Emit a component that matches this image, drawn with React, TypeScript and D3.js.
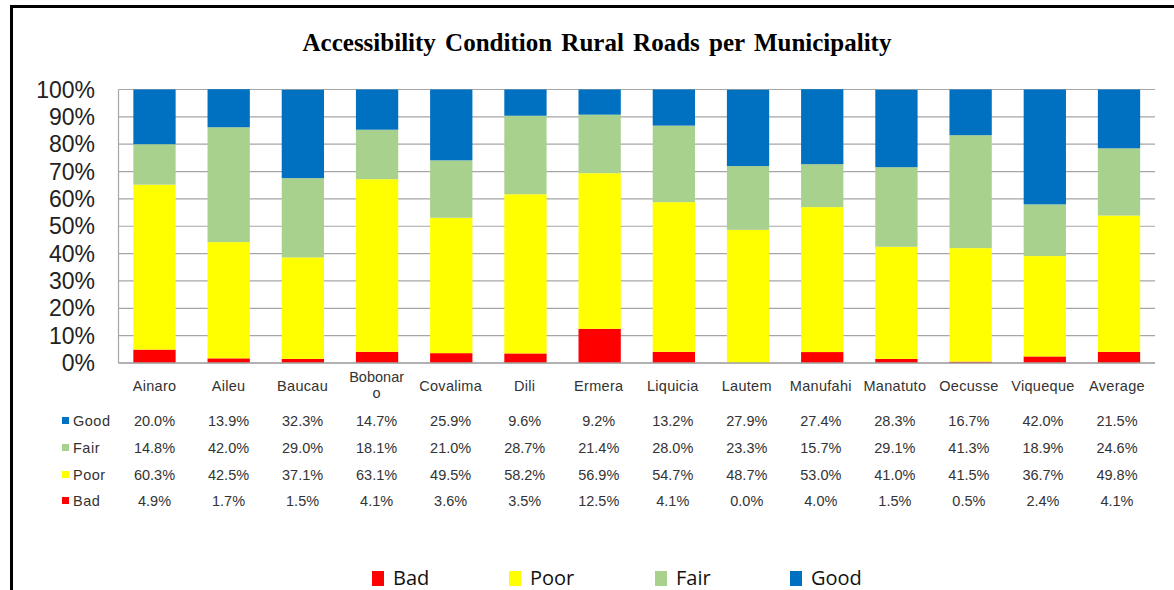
import React from "react";
import * as d3 from "d3";

const categories = ["Ainaro","Aileu","Baucau","Bobonaro","Covalima","Dili","Ermera","Liquicia","Lautem","Manufahi","Manatuto","Oecusse","Viqueque","Average"];
const bad = [4.9,1.7,1.5,4.1,3.6,3.5,12.5,4.1,0.0,4.0,1.5,0.5,2.4,4.1];
const poor = [60.3,42.5,37.1,63.1,49.5,58.2,56.9,54.7,48.7,53.0,41.0,41.5,36.7,49.8];
const fair = [14.8,42.0,29.0,18.1,21.0,28.7,21.4,28.0,23.3,15.7,29.1,41.3,18.9,24.6];
const good = [20.0,13.9,32.3,14.7,25.9,9.6,9.2,13.2,27.9,27.4,28.3,16.7,42.0,21.5];
const seriesNames = ["Bad","Poor","Fair","Good"];
const seriesColors = ["#FF0000","#FFFF00","#A9D18E","#0070C0"];
const yTicks = [0,10,20,30,40,50,60,70,80,90,100];

export default function App() {
  const W = 1174, H = 590;
  const left = 118.5, right = 1155, top = 89.5, bottom = 363;
  const x = d3.scaleBand<string>().domain(categories).range([left, right]).paddingInner(0.43).paddingOuter(0.2);
  const y = d3.scaleLinear().domain([0, 100]).range([bottom, top]);
  const step = (right - left) / categories.length;
  const data = categories.map((c, i) => ({ cat: c, Bad: bad[i], Poor: poor[i], Fair: fair[i], Good: good[i] }));
  const stacked = d3.stack<any>().keys(seriesNames)(data);
  const tableRows = [
    { name: "Good", vals: good, color: seriesColors[3], y: 421 },
    { name: "Fair", vals: fair, color: seriesColors[2], y: 448 },
    { name: "Poor", vals: poor, color: seriesColors[1], y: 475 },
    { name: "Bad", vals: bad, color: seriesColors[0], y: 501 },
  ];
  const legendX = [372, 509, 655, 790];
  const colCenter = (i: number) => left + step * i + step / 2 - 1;
  const sans = "'Liberation Sans', Arial, sans-serif";
  return (
    <svg width={W} height={H} style={{ position: "absolute", left: 0, top: 0, background: "#fff" }}>
      <rect x={0} y={0} width={W} height={H} fill="#fff" />
      <rect x={11.5} y={6.5} width={1300} height={800} fill="none" stroke="#000" strokeWidth={3} />
      <text x={597} y={51} textAnchor="middle" fontFamily="'Liberation Serif', 'Times New Roman', serif" fontWeight="bold" fontSize={25} fill="#000" wordSpacing={3}>
        Accessibility Condition Rural Roads per Municipality
      </text>
      {yTicks.map(t => (
        <g key={t}>
          <line x1={left} x2={right} y1={y(t)} y2={y(t)} stroke="#A6A6A6" strokeWidth={1.2} />
          <text x={95} y={y(t) + 8} textAnchor="end" fontFamily={sans} fontSize={23} fill="#222">{t}%</text>
        </g>
      ))}
      <line x1={left} x2={left} y1={top} y2={bottom} stroke="#A6A6A6" strokeWidth={1.2} />
      {stacked.map((s, si) => (
        <g key={s.key} fill={seriesColors[si]}>
          {s.map((d, i) => (
            <rect key={i} x={x(categories[i])!} width={x.bandwidth()} y={y(d[1])} height={Math.max(0, y(d[0]) - y(d[1]))} />
          ))}
        </g>
      ))}
      <line x1={left} x2={right} y1={bottom} y2={bottom} stroke="#A6A6A6" strokeWidth={1.5} />
      {categories.map((c, i) => c === "Bobonaro" ? (
        <g key={c}>
          <text x={colCenter(i)} y={382} textAnchor="middle" fontFamily={sans} fontSize={14.5} fill="#333">Bobonar</text>
          <text x={colCenter(i)} y={398} textAnchor="middle" fontFamily={sans} fontSize={14.5} fill="#333">o</text>
        </g>
      ) : (
        <text key={c} x={colCenter(i)} y={391} textAnchor="middle" fontFamily={sans} fontSize={14.5} fill="#333" letterSpacing={0.3}>{c}</text>
      ))}
      {tableRows.map(r => (
        <g key={r.name}>
          <rect x={62} y={r.y - 4} width={7} height={7} fill={r.color} />
          <text x={73} y={r.y + 5} fontFamily={sans} fontSize={14.5} fill="#333" letterSpacing={0.5}>{r.name}</text>
          {r.vals.map((v, i) => (
            <text key={i} x={colCenter(i)} y={r.y + 5} textAnchor="middle" fontFamily={sans} fontSize={14.5} fill="#333">{v.toFixed(1)}%</text>
          ))}
        </g>
      ))}
      {seriesNames.map((n, i) => (
        <g key={n}>
          <rect x={legendX[i]} y={571} width={12} height={15} fill={seriesColors[i]} />
          <text x={legendX[i] + 21} y={585} fontFamily="'Open Sans', Lato, sans-serif" fontSize={20} fill="#111">{n}</text>
        </g>
      ))}
    </svg>
  );
}
